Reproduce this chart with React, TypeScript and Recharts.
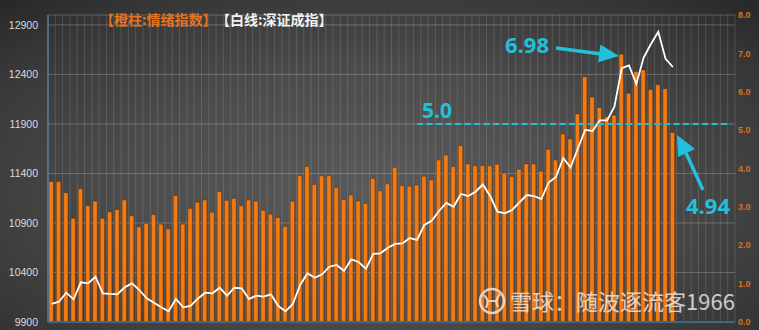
import React from 'react';
import { ComposedChart, Bar, Line, XAxis, YAxis, CartesianGrid, ReferenceLine } from 'recharts';

// total category slots on the x axis (last ones are empty)
const TOTAL_SLOTS = 94;

// 情绪指数 (orange bars, right axis)
const sentiment = [
  3.66, 3.66, 3.37, 2.70, 3.47, 3.03, 3.15, 2.70, 2.87, 2.93,
  3.18, 2.77, 2.48, 2.57, 2.80, 2.55, 2.43, 3.29, 2.55, 2.96,
  3.12, 3.18, 2.86, 3.40, 3.17, 3.22, 3.03, 3.18, 3.15, 2.91,
  2.81, 2.72, 2.49, 3.15, 3.81, 4.05, 3.58, 3.81, 3.81, 3.50,
  3.19, 3.31, 3.15, 3.09, 3.74, 3.42, 3.60, 4.03, 3.56, 3.54,
  3.57, 3.80, 3.70, 4.22, 4.35, 4.05, 4.59, 4.12, 4.07, 4.08,
  4.07, 4.11, 3.88, 3.79, 3.98, 4.12, 4.12, 3.93, 4.50, 4.22,
  4.90, 4.77, 5.42, 6.39, 5.86, 5.59, 5.35, 5.39, 6.98, 5.96,
  6.52, 6.57, 6.06, 6.18, 6.08, 4.94,
];

// 深证成指 (white line, left axis)
const szIndex = [
  10082, 10105, 10196, 10129, 10301, 10291, 10357, 10190, 10183, 10180,
  10250, 10291, 10223, 10139, 10095, 10048, 10008, 10132, 10048, 10062,
  10135, 10196, 10190, 10246, 10166, 10246, 10240, 10132, 10166, 10156,
  10180, 10062, 10008, 10082, 10274, 10392, 10347, 10382, 10458, 10476,
  10415, 10533, 10506, 10437, 10587, 10594, 10650, 10688, 10693, 10748,
  10728, 10880, 10923, 11021, 11102, 11064, 11193, 11172, 11216, 11288,
  11172, 11014, 10998, 11031, 11107, 11182, 11172, 11142, 11309, 11364,
  11556, 11460, 11652, 11839, 11829, 11935, 11935, 12074, 12462, 12490,
  12303, 12571, 12707, 12831, 12558, 12475,
];

const leftTicks = [9900, 10400, 10900, 11400, 11900, 12400, 12900];
const rightTicks = [0, 1, 2, 3, 4, 5, 6, 7, 8];

const legendBar = '【橙柱:情绪指数】';
const legendLine = '【白线:深证成指】';
const peakLabel = '6.98';
const thresholdLabel = '5.0';
const lastLabel = '4.94';
const watermark = '雪球：随波逐流客1966';

const thresholdValue = 5.16;
const thresholdStartSlot = '51';

const data = Array.from({ length: TOTAL_SLOTS }, (_, i) => ({
  cat: String(i + 1),
  sentiment: i < sentiment.length ? sentiment[i] : null,
  index: i < szIndex.length ? szIndex[i] : null,
}));

const CYAN = '#22C0DA';
const ORANGE = '#F47A12';

const vGen = (props: any) => {
  const o = props && props.offset ? props.offset : { left: 48, width: 687 };
  return Array.from({ length: TOTAL_SLOTS + 1 }, (_, i) => o.left + (i * o.width) / TOTAL_SLOTS);
};

export default function App() {
  return (
    <div
      style={{
        position: 'absolute',
        left: 0,
        top: 0,
        width: 759,
        height: 330,
        overflow: 'hidden',
        background:
          'radial-gradient(ellipse 75% 80% at 50% 58%, #5a5a5a 0%, #4c4c4c 45%, #373737 80%, #262626 100%)',
      }}
    >
      <ComposedChart
        width={759}
        height={330}
        data={data}
        margin={{ top: 15, right: 0, left: 0, bottom: 0 }}
      >
        <CartesianGrid
          yAxisId="left"
          horizontal={false}
          vertical={true}
          stroke="rgba(255,255,255,0.13)"
          verticalCoordinatesGenerator={vGen}
        />
        <CartesianGrid
          yAxisId="left"
          horizontal={true}
          vertical={false}
          stroke="rgba(255,255,255,0.22)"
        />
        <XAxis
          dataKey="cat"
          tick={false}
          tickLine={false}
          height={8}
          axisLine={{ stroke: '#3f6788', strokeWidth: 2 }}
        />
        <YAxis
          yAxisId="left"
          width={48}
          domain={[9900, 13000]}
          ticks={leftTicks}
          allowDataOverflow
          tickLine={false}
          tickSize={0}
          tickMargin={10}
          axisLine={{ stroke: '#4f7ba3', strokeWidth: 1.5 }}
          tick={{ fill: '#dcdcdc', fontSize: 10.5, fontFamily: 'Liberation Sans, Arial, sans-serif' }}
        />
        <YAxis
          yAxisId="right"
          orientation="right"
          width={24}
          domain={[0, 8]}
          ticks={rightTicks}
          tickFormatter={(v: number) => v.toFixed(1)}
          axisLine={false}
          tickLine={false}
          tickSize={0}
          tickMargin={3}
          tick={{ fill: '#D9701F', fontSize: 9, fontWeight: 'bold', fontFamily: 'Liberation Sans, Arial, sans-serif' }}
        />
        <Bar
          yAxisId="right"
          dataKey="sentiment"
          fill={ORANGE}
          stroke="rgba(80,35,0,0.55)"
          strokeWidth={0.7}
          barSize={4.4}
          isAnimationActive={false}
        />
        <Line
          yAxisId="left"
          dataKey="index"
          type="linear"
          stroke="#ffffff"
          strokeWidth={1.8}
          dot={false}
          activeDot={false}
          isAnimationActive={false}
        />
        <ReferenceLine
          yAxisId="right"
          segment={[
            { x: thresholdStartSlot, y: thresholdValue },
            { x: String(TOTAL_SLOTS), y: thresholdValue },
          ]}
          stroke={CYAN}
          strokeWidth={2}
          strokeDasharray="6 3.5"
        />
      </ComposedChart>
      <svg
        width={759}
        height={330}
        style={{ position: 'absolute', left: 0, top: 0, pointerEvents: 'none' }}
      >
        <text x={100} y={25} fontSize={14} fontWeight="bold" fill="#E8731E" fontFamily="Noto Sans CJK SC">
          {legendBar}
        </text>
        <text x={216} y={25} fontSize={14} fontWeight="bold" fill="#f2f2f2" fontFamily="Noto Sans CJK SC">
          {legendLine}
        </text>

        <text x={505} y={53} fontSize={22} fontWeight="bold" fill={CYAN} fontFamily="Open Sans">
          {peakLabel}
        </text>
        <line x1={556} y1={48} x2={601} y2={54} stroke={CYAN} strokeWidth={3.5} />
        <polygon points="619,56 600.4,44.5 598,62.3" fill={CYAN} />

        <text x={422} y={118} fontSize={21} fontWeight="bold" fill={CYAN} fontFamily="Open Sans">
          {thresholdLabel}
        </text>

        <text x={686} y={214} fontSize={22} fontWeight="bold" fill={CYAN} fontFamily="Open Sans">
          {lastLabel}
        </text>
        <line x1={703} y1={190} x2={686} y2={153} stroke={CYAN} strokeWidth={3.5} />
        <polygon points="677,135 695,149 678,157" fill={CYAN} />

        <g opacity={0.8}>
          <circle cx={492} cy={301} r={12} fill="none" stroke="#f0f0f0" strokeWidth={2.5} />
          <path d="M484,295 Q490,301 486,308 M500,294 Q494,301 498,307 M488,301 L496,301" fill="none" stroke="#f0f0f0" strokeWidth={2.2} />
          <text x={510} y={310} fontSize={22} fill="#f0f0f0" fontFamily="Noto Sans CJK SC">
            {watermark}
          </text>
        </g>
      </svg>
    </div>
  );
}
